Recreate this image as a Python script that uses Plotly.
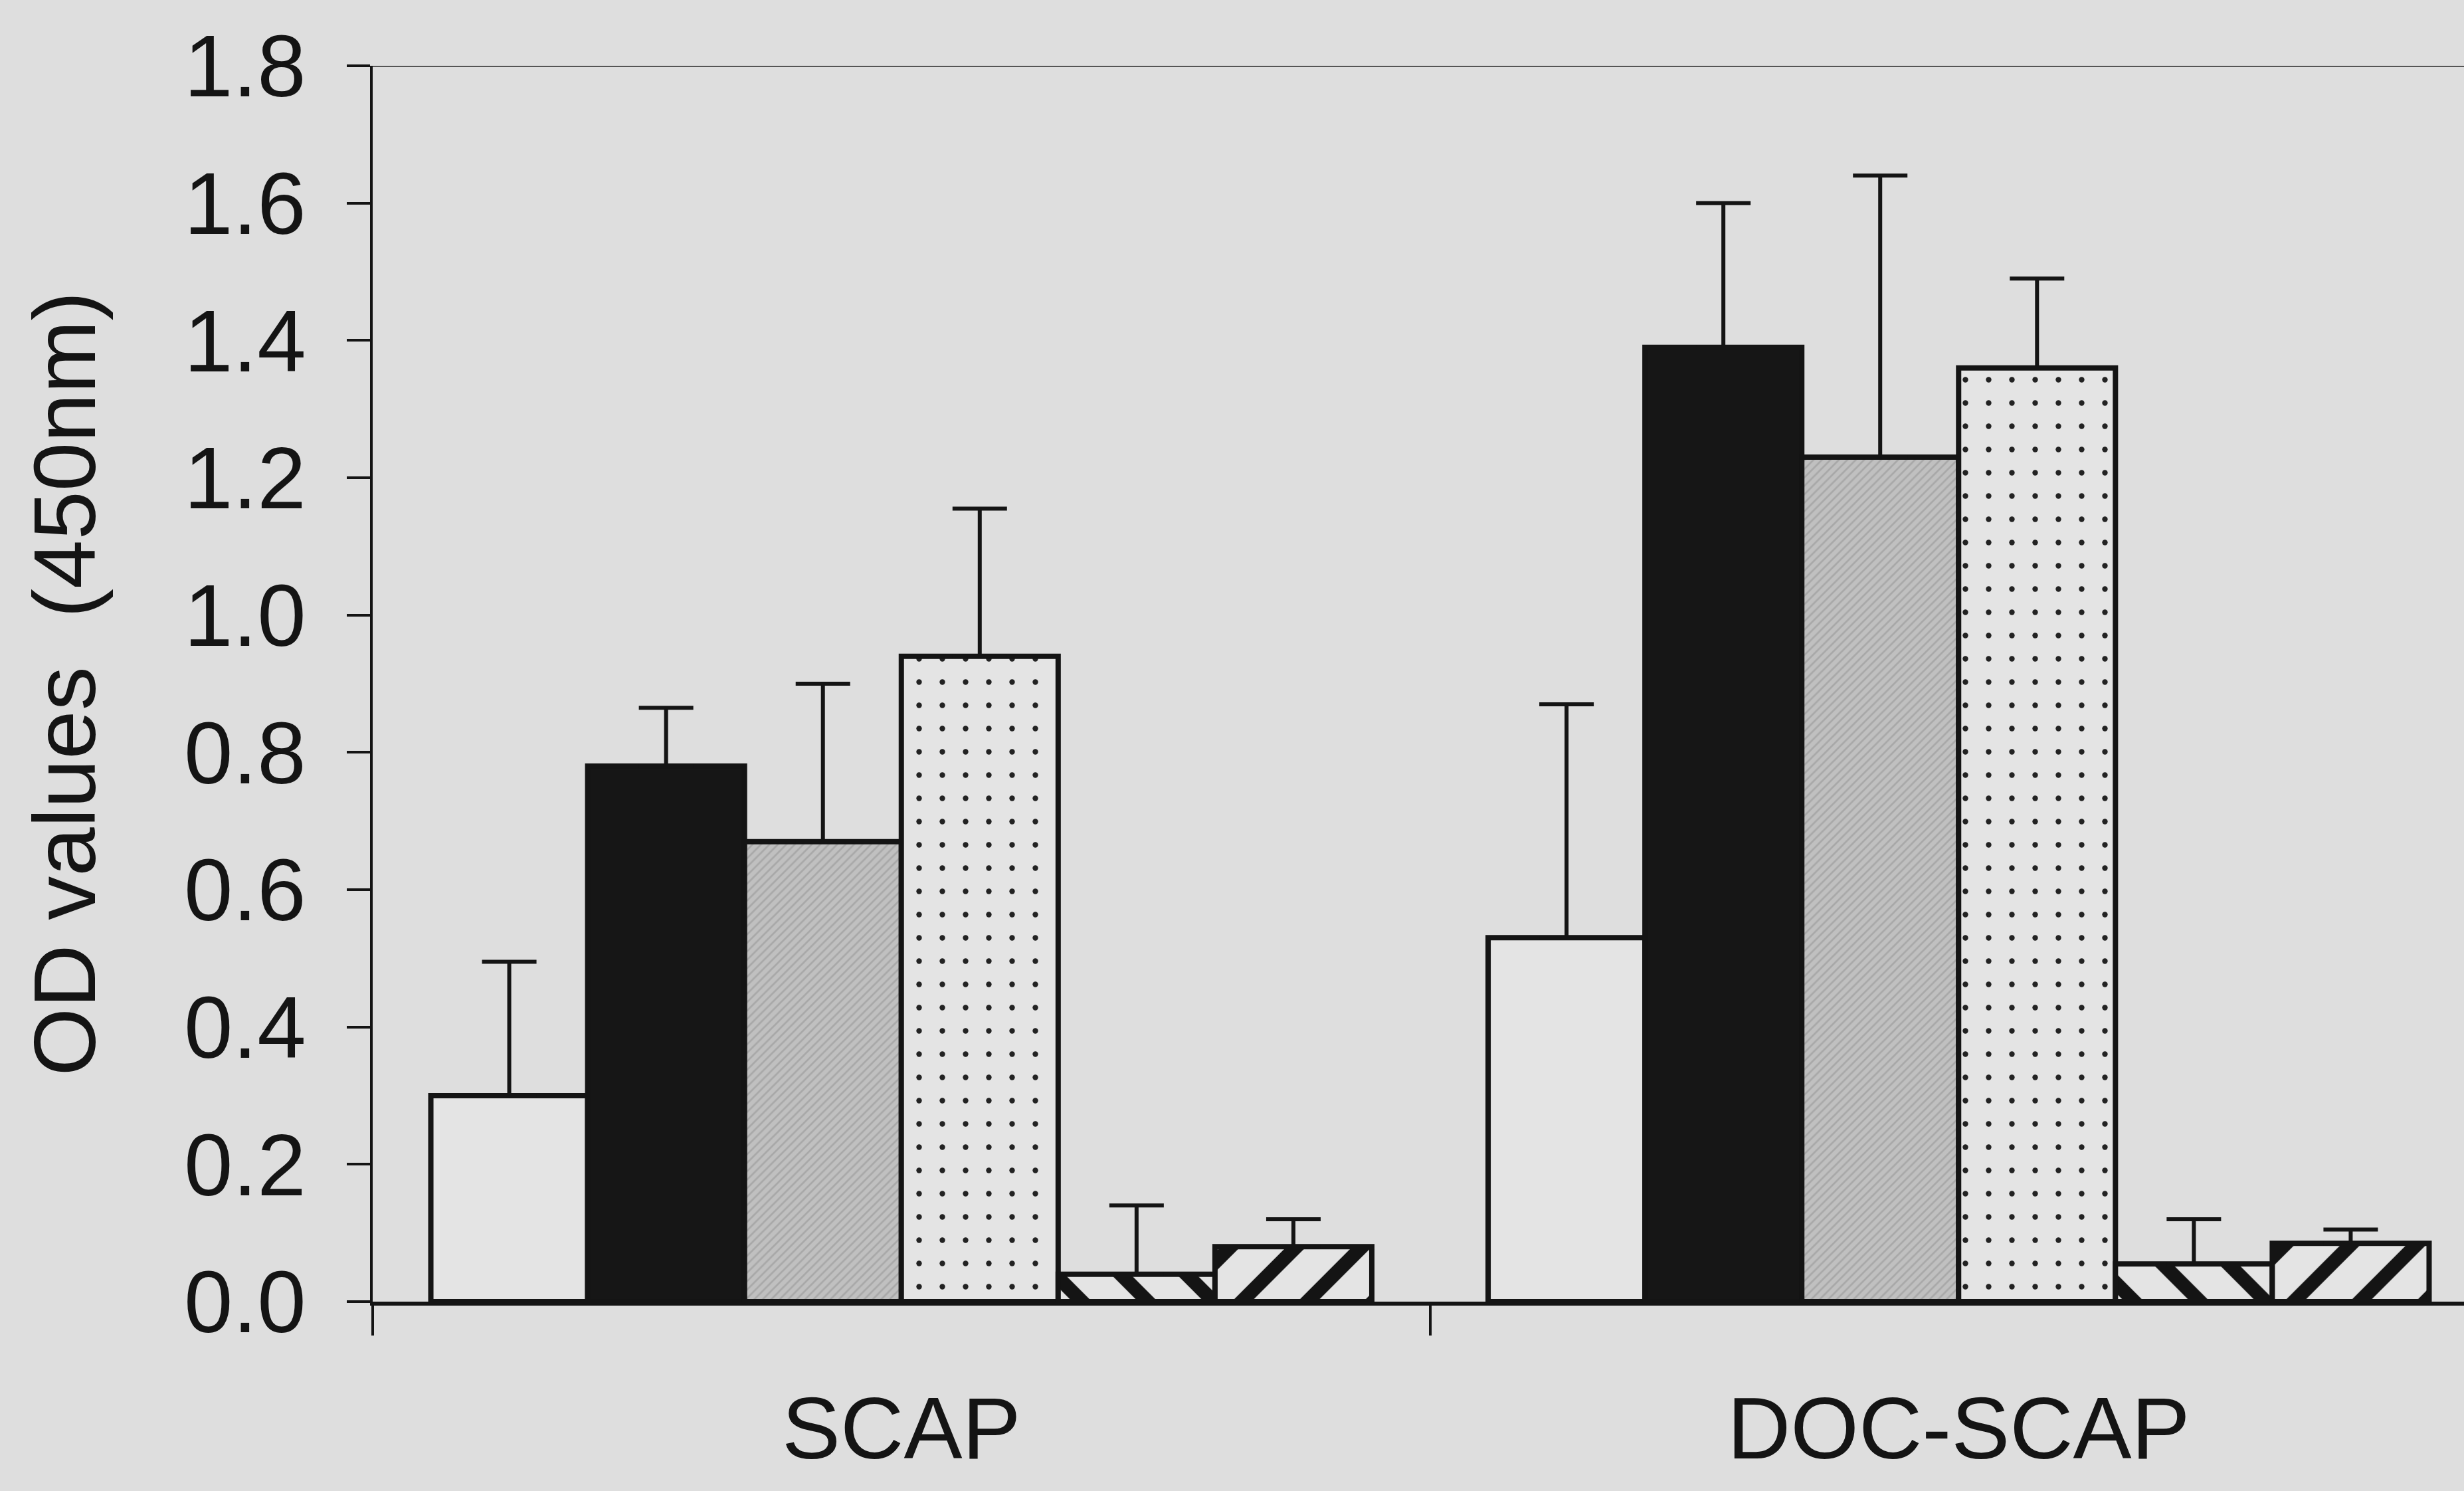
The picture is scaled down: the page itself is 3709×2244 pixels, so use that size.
import plotly.graph_objects as go

categories = ["SCAP", "DOC-SCAP"]
series_names = ["Series 1", "Series 2", "Series 3", "Series 4", "Series 5", "Series 6"]
values = [
    [0.30, 0.53],
    [0.78, 1.39],
    [0.67, 1.23],
    [0.94, 1.36],
    [0.04, 0.055],
    [0.08, 0.085],
]
errors = [
    [0.195, 0.34],
    [0.085, 0.21],
    [0.23, 0.41],
    [0.215, 0.13],
    [0.10, 0.065],
    [0.04, 0.02],
]
y_ticks = [0.0, 0.2, 0.4, 0.6, 0.8, 1.0, 1.2, 1.4, 1.6, 1.8]
y_max = 1.8

BG = "#dedede"
LIGHT = "#e4e4e4"
INK = "#141414"
styles = [
    dict(color=LIGHT, pattern=dict(shape="")),
    dict(color="#161616", pattern=dict(shape="")),
    dict(color="#bebebe", pattern=dict(shape="/", fgcolor="#a8a8a8", bgcolor="#c0c0c0", size=9, solidity=0.3, fillmode="replace")),
    dict(color=LIGHT, pattern=dict(shape=".", fgcolor="#222222", bgcolor=LIGHT, size=35, solidity=0.045, fillmode="replace")),
    dict(color=LIGHT, pattern=dict(shape="\\", fgcolor=INK, bgcolor=LIGHT, size=70, solidity=0.3, fillmode="replace")),
    dict(color=LIGHT, pattern=dict(shape="/", fgcolor=INK, bgcolor=LIGHT, size=70, solidity=0.3, fillmode="replace")),
]

fig = go.Figure()
for name, vals, errs, st in zip(series_names, values, errors, styles):
    fig.add_trace(go.Bar(
        x=categories, y=vals, name=name,
        marker=dict(color=st["color"], pattern=st["pattern"], line=dict(color=INK, width=8)),
        error_y=dict(type="data", array=errs, arrayminus=[0] * len(errs), symmetric=False,
                     color=INK, thickness=6, width=41),
    ))

font_family = "Liberation Sans, Arial, sans-serif"
fig.update_layout(
    width=3709, height=2244,
    margin=dict(l=561, r=0, t=99, b=285),
    paper_bgcolor=BG, plot_bgcolor=BG,
    barmode="group", bargap=0.11, bargroupgap=0,
    showlegend=False,
    font=dict(family=font_family, size=132, color=INK),
    xaxis=dict(
        range=[-0.5, 1.478], showline=True, linecolor=INK, linewidth=6,
        ticks="outside", tickson="boundaries", ticklen=45, tickwidth=4, tickcolor=INK,
        showgrid=False, zeroline=False, ticklabelstandoff=72,
        tickfont=dict(size=132, family=font_family),
    ),
    yaxis=dict(
        range=[0, y_max], tickvals=y_ticks, tickformat=".1f",
        showline=True, linecolor=INK, linewidth=4,
        ticks="outside", ticklen=35, tickwidth=4, tickcolor=INK,
        showgrid=False, zeroline=False, ticklabelstandoff=35,
        tickfont=dict(size=132, family=font_family),
        title=dict(text="OD values  (450nm)", standoff=90, font=dict(size=132, family=font_family)),
    ),
)
fig.add_shape(type="line", xref="paper", yref="y", x0=0, x1=1, y0=y_max, y1=y_max,
              line=dict(color="#555555", width=4))

fig.write_html("out.html")
